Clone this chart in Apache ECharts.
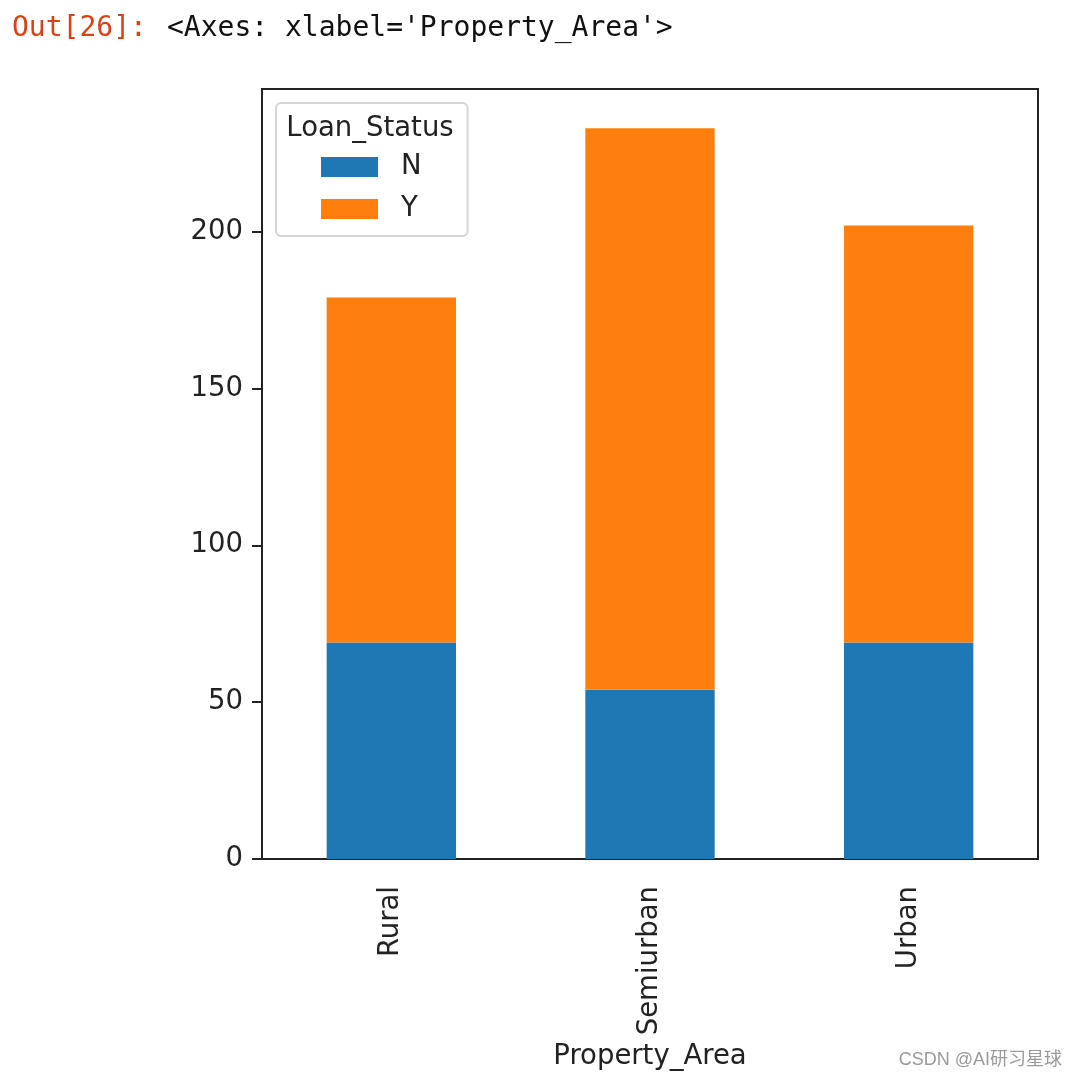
<!DOCTYPE html>
<html>
<head>
<meta charset="utf-8">
<script src="https://cdn.jsdelivr.net/npm/echarts@6/dist/echarts.min.js"></script>
<style>
html,body{margin:0;padding:0;background:#fff;}
#chart{width:1078px;height:1080px;}
</style>
</head>
<body>
<div id="chart"></div>
<script>
const categories = ['Rural', 'Semiurban', 'Urban'];
const seriesN = [69, 54, 69];
const seriesY = [110, 179, 133];
const yTicks = [0, 50, 100, 150, 200];
const yMax = 245.5;

const chart = echarts.init(document.getElementById('chart'));
const font = 'DejaVu Sans';
const fs = 27.5;
chart.setOption({
  backgroundColor: '#fff',
  animation: false,
  textStyle: { fontFamily: font },
  grid: {
    left: 262, right: 40, top: 89, bottom: 221,
    show: true, borderColor: '#222', borderWidth: 2, backgroundColor: 'transparent'
  },
  legend: {
    left: 276, top: 103,
    orient: 'vertical',
    data: ['N', 'Y'],
    icon: 'rect',
    itemWidth: 57, itemHeight: 20, itemGap: 14,
    padding: [50, 46, 13, 45],
    backgroundColor: 'rgba(255,255,255,0.85)',
    borderColor: '#d5d5d5', borderWidth: 2, borderRadius: 5,
    textStyle: { fontFamily: font, fontSize: fs, lineHeight: 28, color: '#222', padding: [0, 0, 0, 18] }
  },
  xAxis: {
    type: 'category',
    data: categories,
    name: 'Property_Area',
    nameLocation: 'middle',
    nameGap: 196,
    nameTextStyle: { fontFamily: font, fontSize: fs, color: '#222', verticalAlign: 'middle' },
    axisLine: { lineStyle: { color: '#222', width: 2 } },
    axisTick: { alignWithLabel: true, length: 10, lineStyle: { color: '#222', width: 2 } },
    axisLabel: { rotate: 90, margin: 27, fontSize: fs, color: '#222', fontFamily: font },
    splitLine: { show: false }
  },
  yAxis: {
    type: 'value',
    min: 0, max: yMax, interval: 50,
    axisLine: { show: true, lineStyle: { color: '#222', width: 2 } },
    axisTick: { show: true, length: 10, customValues: yTicks, lineStyle: { color: '#222', width: 2 } },
    axisLabel: { margin: 19, fontSize: fs, color: '#222', fontFamily: font, customValues: yTicks },
    splitLine: { show: false }
  },
  series: [
    { name: 'N', type: 'bar', stack: 'total', data: seriesN, barWidth: '50%', itemStyle: { color: '#1f77b4' } },
    { name: 'Y', type: 'bar', stack: 'total', data: seriesY, barWidth: '50%', itemStyle: { color: '#ff7f0e' } }
  ],
  graphic: [
    { type: 'text', x: 370, y: 129, z: 100,
      style: { text: 'Loan_Status', font: fs + 'px "DejaVu Sans"', fill: '#222', textAlign: 'center', textVerticalAlign: 'middle' } },
    { type: 'text', x: 12, y: 29,
      style: { text: 'Out[26]:', font: '28px "DejaVu Sans Mono"', fill: '#D84315', textVerticalAlign: 'middle' } },
    { type: 'text', x: 167, y: 29,
      style: { text: "<Axes: xlabel='Property_Area'>", font: '28px "DejaVu Sans Mono"', fill: '#111', textVerticalAlign: 'middle' } },
    { type: 'text', x: 1062, y: 1060,
      style: { text: 'CSDN @AI研习星球', font: '18px "Liberation Sans", "Noto Sans CJK SC"', fill: '#9a9a9a', textAlign: 'right', textVerticalAlign: 'middle' } }
  ]
});
</script>
</body>
</html>
